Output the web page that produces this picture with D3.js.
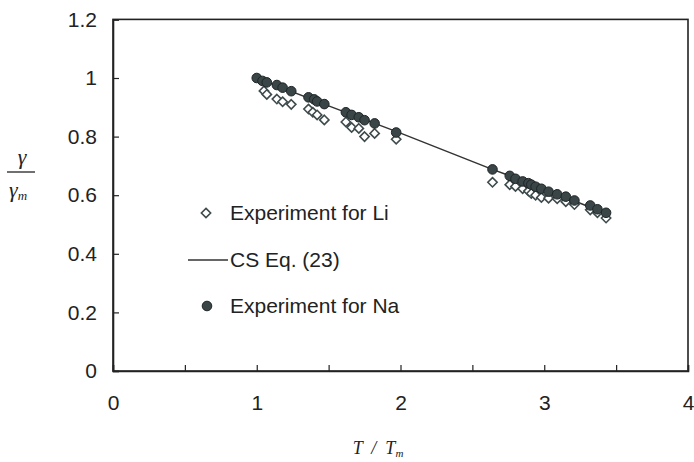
<!DOCTYPE html>
<html>
<head>
<meta charset="utf-8">
<script src="https://cdn.jsdelivr.net/npm/d3@7"></script>
<style>
  html, body { margin: 0; padding: 0; background: #fff; }
  svg { display: block; }
  text { font-family: "Liberation Sans", Arial, sans-serif; fill: #222; }
  .serif { font-family: "Liberation Serif", "Times New Roman", serif; font-style: italic; }
</style>
</head>
<body>
<script>
// ---- data ----
const liX = [1.05, 1.07, 1.14, 1.18, 1.24, 1.36, 1.39, 1.42, 1.47, 1.62, 1.66, 1.71, 1.75, 1.82, 1.97,
             2.64, 2.76, 2.80, 2.85, 2.89, 2.91, 2.94, 2.98, 3.03, 3.09, 3.15, 3.21, 3.32, 3.37, 3.43];
const liY = [0.956, 0.944, 0.928, 0.919, 0.910, 0.894, 0.883, 0.874, 0.857, 0.850, 0.831, 0.828, 0.800, 0.811, 0.791,
             0.644, 0.636, 0.630, 0.622, 0.614, 0.606, 0.600, 0.592, 0.590, 0.588, 0.578, 0.568, 0.550, 0.540, 0.522];
const naX = [1.00, 1.04, 1.07, 1.14, 1.18, 1.24, 1.36, 1.40, 1.42, 1.47, 1.62, 1.66, 1.71, 1.75, 1.82, 1.97,
             2.64, 2.76, 2.80, 2.85, 2.89, 2.91, 2.94, 2.98, 3.03, 3.09, 3.15, 3.21, 3.32, 3.37, 3.43];
const naY = [1.000, 0.990, 0.985, 0.976, 0.967, 0.955, 0.934, 0.927, 0.920, 0.911, 0.883, 0.874, 0.866, 0.856, 0.845, 0.814,
             0.688, 0.666, 0.656, 0.647, 0.641, 0.636, 0.629, 0.622, 0.612, 0.603, 0.595, 0.582, 0.565, 0.552, 0.540];
const csX = [1.00, 1.50, 2.00, 2.63, 3.00, 3.44];
const csY = [1.000, 0.905, 0.812, 0.690, 0.622, 0.535];
const xTicks = [0, 1, 2, 3, 4];
const xMinorTicks = [0.5, 1.5, 2.5, 3.5];
const yTicks = [0, 0.2, 0.4, 0.6, 0.8, 1.0, 1.2];
const legendLabels = ["Experiment for Li", "CS Eq. (23)", "Experiment for Na"];

// ---- layout ----
const W = 694, H = 462;
const pLeft = 113, pRight = 688, pTop = 19.4, pBottom = 371;
const x = d3.scaleLinear().domain([0, 4]).range([pLeft, pRight]);
const y = d3.scaleLinear().domain([0, 1.2]).range([pBottom, pTop]);

const svg = d3.select("body").append("svg").attr("width", W).attr("height", H);

const axisColor = "#222";
// plot frame
svg.append("rect").attr("x", pLeft).attr("y", pTop).attr("width", pRight - pLeft).attr("height", pBottom - pTop)
  .attr("fill", "none").attr("stroke", axisColor).attr("stroke-width", 1.6);

// y axis
const yAxis = svg.append("g").attr("transform", `translate(${pLeft},0)`)
  .call(d3.axisRight(y).tickValues(yTicks).tickSize(6).tickFormat(d => d3.format("~g")(d)));
yAxis.select(".domain").attr("stroke", axisColor).attr("stroke-width", 1.6);
yAxis.selectAll(".tick line").attr("stroke", axisColor).attr("stroke-width", 1.2);
yAxis.selectAll(".tick text").attr("x", -16).attr("text-anchor", "end")
  .style("font-size", "21px").style("font-family", "Liberation Sans, Arial, sans-serif").attr("fill", "#222");

// x axis
const xAxis = svg.append("g").attr("transform", `translate(0,${pBottom})`)
  .call(d3.axisTop(x).tickValues(xTicks).tickSize(6).tickFormat(d3.format("d")));
xAxis.select(".domain").attr("stroke", axisColor).attr("stroke-width", 1.6);
xAxis.selectAll(".tick line").attr("stroke", axisColor).attr("stroke-width", 1.2);
xAxis.selectAll(".tick text").attr("y", 39).attr("dy", null)
  .style("font-size", "21px").style("font-family", "Liberation Sans, Arial, sans-serif").attr("fill", "#222");
svg.append("g").attr("transform", `translate(0,${pBottom})`)
  .call(d3.axisTop(x).tickValues(xMinorTicks).tickSize(6).tickFormat(""))
  .call(g => g.select(".domain").remove())
  .selectAll(".tick line").attr("stroke", axisColor).attr("stroke-width", 1.2);

// Li diamonds
const diamond = d3.symbol().type(d3.symbolDiamond2).size(55);
svg.append("g").selectAll("path").data(liX.map((v, i) => [v, liY[i]])).join("path")
  .attr("d", diamond)
  .attr("transform", d => `translate(${x(d[0])},${y(d[1])})`)
  .attr("fill", "#fff").attr("stroke", "#3e4a4c").attr("stroke-width", 1.6);

// CS line
svg.append("path").datum(csX.map((v, i) => [v, csY[i]]))
  .attr("d", d3.line().x(d => x(d[0])).y(d => y(d[1])))
  .attr("fill", "none").attr("stroke", "#333").attr("stroke-width", 1.5);

// Na circles
svg.append("g").selectAll("circle").data(naX.map((v, i) => [v, naY[i]])).join("circle")
  .attr("cx", d => x(d[0])).attr("cy", d => y(d[1])).attr("r", 4.8)
  .attr("fill", "#3a4547").attr("stroke", "#1e2526").attr("stroke-width", 1);

// legend
const lg = svg.append("g");
const ly = [213, 260, 306];
lg.append("path").attr("d", diamond).attr("transform", `translate(206,${ly[0]})`)
  .attr("fill", "#fff").attr("stroke", "#3e4a4c").attr("stroke-width", 1.6);
lg.append("line").attr("x1", 188).attr("x2", 228).attr("y1", ly[1]).attr("y2", ly[1])
  .attr("stroke", "#333").attr("stroke-width", 1.5);
lg.append("circle").attr("cx", 207).attr("cy", ly[2]).attr("r", 4.8)
  .attr("fill", "#3a4547").attr("stroke", "#1e2526").attr("stroke-width", 1);
legendLabels.forEach((t, i) => {
  lg.append("text").attr("x", 230).attr("y", ly[i]).attr("dy", "0.35em")
    .style("font-size", "21px").text(t);
});

// y axis label: gamma / gamma_m
const yl = svg.append("g");
yl.append("text").attr("class", "serif").attr("x", 22).attr("y", 164).attr("text-anchor", "middle")
  .style("font-size", "22px").text("γ");
yl.append("line").attr("x1", 7).attr("x2", 35).attr("y1", 172).attr("y2", 172)
  .attr("stroke", "#222").attr("stroke-width", 1.3);
const gm = yl.append("text").attr("class", "serif").attr("x", 9).attr("y", 197).style("font-size", "22px");
gm.append("tspan").text("γ");
gm.append("tspan").attr("dy", 3).style("font-size", "13px").text("m");

// x axis label: T / T_m
const xl = svg.append("text").attr("class", "serif").attr("x", 378).attr("y", 454).attr("text-anchor", "middle")
  .style("font-size", "18px").attr("xml:space", "preserve");
xl.append("tspan").text("T  /  T");
xl.append("tspan").attr("dy", 3).style("font-size", "11px").text("m");
</script>
</body>
</html>
